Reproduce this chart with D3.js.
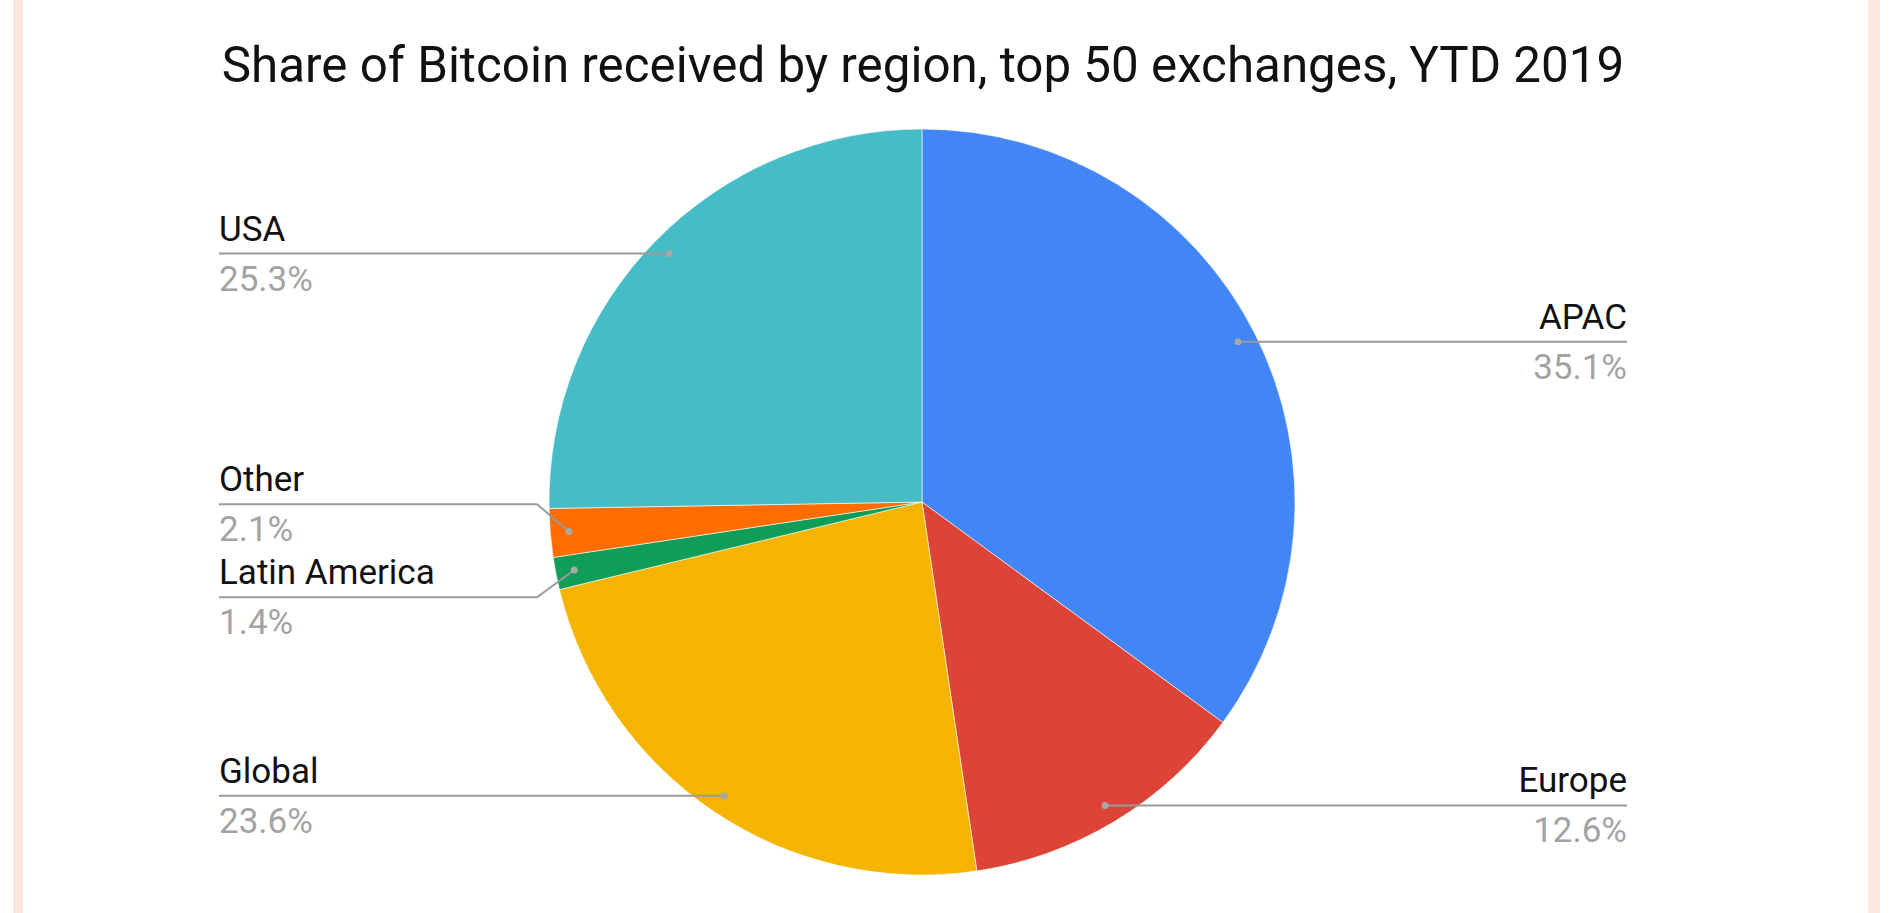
<!DOCTYPE html>
<html>
<head>
<meta charset="utf-8">
<script src="https://cdn.jsdelivr.net/npm/d3@7/dist/d3.min.js"></script>
<style>
  html, body { margin: 0; padding: 0; background: #ffffff; }
  svg { display: block; }
</style>
</head>
<body>
<svg id="chart" width="1890" height="913"></svg>
<script>
// ---- data ----
const title = "Share of Bitcoin received by region, top 50 exchanges, YTD 2019";
const regions = ["APAC", "Europe", "Global", "Latin America", "Other", "USA"];
const shares  = [35.1, 12.6, 23.6, 1.4, 2.1, 25.3];
const shareLabels = ["35.1%", "12.6%", "23.6%", "1.4%", "2.1%", "25.3%"];
const colors  = ["#4285f4", "#db4437", "#f4b400", "#0f9d58", "#ff6d00", "#46bdc6"];

// ---- layout ----
const W = 1890, H = 913;
const cx = 922, cy = 502, R = 373;
const dotR = R * 0.95;
const leftX = 219, rightX = 1627;
const elbowGap = 12;
const minSpacing = 93;

const svg = d3.select("#chart");

// side borders
svg.append("rect").attr("x", 13).attr("y", 0).attr("width", 10).attr("height", H).attr("fill", "#fbe7dd");
svg.append("rect").attr("x", 1868).attr("y", 0).attr("width", 12).attr("height", H).attr("fill", "#fbe7dd");

// title
svg.append("text")
  .attr("x", 923).attr("y", 82)
  .attr("text-anchor", "middle")
  .attr("font-family", "Roboto, 'Noto Sans', sans-serif")
  .attr("font-size", 49.3)
  .attr("fill", "#111")
  .text(title);

const data = regions.map((r, i) => ({ name: r, value: shares[i], label: shareLabels[i], color: colors[i] }));
const pie = d3.pie().value(d => d.value).sort(null);
const arcs = pie(data);
const arc = d3.arc().innerRadius(0).outerRadius(R);
const dotArc = d3.arc().innerRadius(dotR).outerRadius(dotR);

const g = svg.append("g").attr("transform", `translate(${cx},${cy})`);
g.selectAll("path.slice")
  .data(arcs)
  .join("path")
  .attr("class", "slice")
  .attr("d", arc)
  .attr("fill", d => d.data.color)
  .attr("stroke", "#ffffff")
  .attr("stroke-width", 0.6);

// label positions
const items = arcs.map(a => {
  const [dx, dy] = dotArc.centroid(a);
  return { a, dotX: cx + dx, dotY: cy + dy, side: dx < 0 ? "left" : "right", y: cy + dy };
});

// relax overlaps on each side (symmetric push apart)
["left", "right"].forEach(side => {
  const s = items.filter(d => d.side === side).sort((p, q) => p.y - q.y);
  for (let iter = 0; iter < 50; iter++) {
    let moved = false;
    for (let i = 1; i < s.length; i++) {
      const gap = s[i].y - s[i - 1].y;
      if (gap < minSpacing) {
        const push = (minSpacing - gap) / 2;
        s[i - 1].y -= push; s[i].y += push; moved = true;
      }
    }
    if (!moved) break;
  }
});

const lg = svg.append("g");
items.forEach(d => {
  const isLeft = d.side === "left";
  const endX = isLeft ? leftX : rightX;
  let pts;
  if (Math.abs(d.y - d.dotY) < 1) {
    pts = [[endX, d.y], [d.dotX, d.dotY]];
  } else {
    const ex = isLeft ? cx - R - elbowGap : cx + R + elbowGap;
    pts = [[endX, d.y], [ex, d.y], [d.dotX, d.dotY]];
  }
  lg.append("path")
    .attr("d", d3.line()(pts))
    .attr("fill", "none")
    .attr("stroke", "#9a9a9a")
    .attr("stroke-width", 2);
  lg.append("circle")
    .attr("cx", d.dotX).attr("cy", d.dotY).attr("r", 3.5)
    .attr("fill", "#a8a8a8");
  lg.append("text")
    .attr("x", endX).attr("y", d.y - 13)
    .attr("text-anchor", isLeft ? "start" : "end")
    .attr("font-family", "Roboto, 'Noto Sans', sans-serif")
    .attr("font-size", 35)
    .attr("fill", "#111")
    .text(d.a.data.name);
  lg.append("text")
    .attr("x", endX).attr("y", d.y + 37)
    .attr("text-anchor", isLeft ? "start" : "end")
    .attr("font-family", "Roboto, 'Noto Sans', sans-serif")
    .attr("font-size", 35)
    .attr("fill", "#a3a3a3")
    .text(d.a.data.label);
});
</script>
</body>
</html>
